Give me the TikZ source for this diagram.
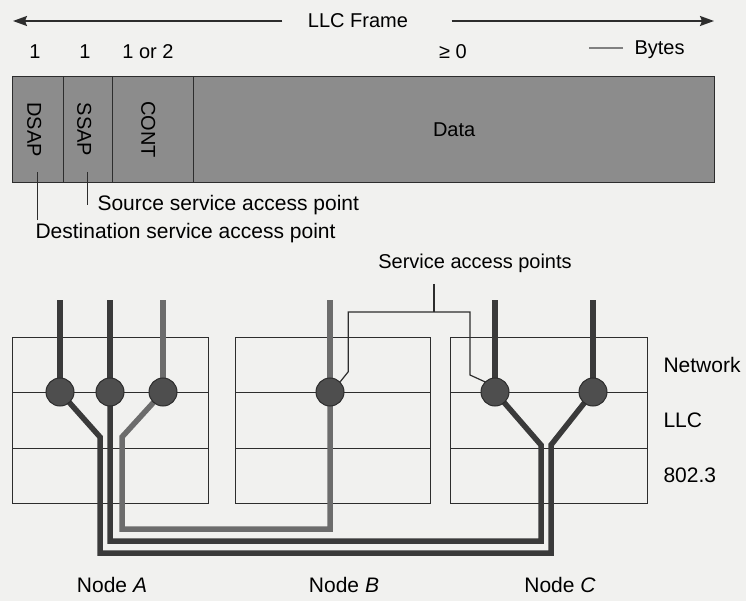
\documentclass[tikz,border=0pt]{standalone}
\usepackage{fontspec}
\setmainfont{Liberation Sans}
\usetikzlibrary{arrows.meta, positioning, calc}

\definecolor{paper}{RGB}{241,241,239}
\definecolor{fieldgray}{RGB}{140,140,140}
\definecolor{inkgray}{RGB}{45,45,45}
\definecolor{wiredark}{RGB}{58,58,58}
\definecolor{wiremid}{RGB}{108,108,108}
\definecolor{sapfill}{RGB}{78,78,78}

\pgfdeclarelayer{under}
\pgfsetlayers{under,main}

\begin{document}
\begin{tikzpicture}[x=1pt, y=-1pt, >={Stealth[length=14pt, width=10pt, inset=2pt]}, line join=miter, font=\fontsize{20}{24}\selectfont]
    % Styles
    \tikzset{
        field/.style={draw=inkgray, line width=1.3pt, fill=fieldgray, minimum height=106pt, inner sep=0pt, anchor=north west},
        stack/.style={draw=inkgray, line width=1.2pt, minimum height=166pt, inner sep=0pt, anchor=north west},
        stackline/.style={line width=1.2pt, inkgray},
        sap/.style={circle, draw=inkgray, line width=1pt, fill=sapfill, minimum size=28pt, inner sep=0pt},
        wire/.style={line width=5.5pt, wiredark},
        wirelight/.style={line width=5.5pt, wiremid},
        thin/.style={line width=1.2pt, inkgray},
        layer/.style={anchor=west, font=\fontsize{21}{25}\selectfont},
        caption/.style={font=\fontsize{21}{25}\selectfont}
    }

    % Page (origin top left, y pointing down)
    \useasboundingbox (0,0) rectangle (746,601);
    \begin{pgfonlayer}{under}
        \fill[paper] (0,0) rectangle (746,601);
    \end{pgfonlayer}

    % --- LLC frame header ---
    \node (frame) at (358,21) {LLC Frame};
    \coordinate (frameL) at (13,21);
    \coordinate (frameR) at (714,21);
    \draw[thin, line width=1.8pt, ->] ($(frame.west)+(-22,0)$) -- (frameL);
    \draw[thin, line width=1.8pt, ->] ($(frame.east)+(40,0)$) -- (frameR);

    \node (len1) at (35,52) {1};
    \node (len2) at (85,52) {1};
    \node (len3) at (148,52) {1 or 2};
    \node (len4) at (453,52) {≥ 0};
    \node[anchor=west] (bytes) at (631,50) {Bytes};
    \draw[line width=2.5pt, gray] ($(bytes.west)+(-8,-2)$) -- ++(-34,0);

    % --- Frame fields ---
    \node[field, minimum width=51pt] (dsap) at (12,76) {};
    \node[field, minimum width=49pt] (ssap) at (63,76) {};
    \node[field, minimum width=81pt] (cont) at (112,76) {};
    \node[field, minimum width=521pt] (data) at (193,76) {Data};
    \node[rotate=-90] (dsaplbl) at ([xshift=-4pt]dsap.center) {DSAP};
    \node[rotate=-90] (ssaplbl) at ([xshift=-4pt]ssap.center) {SSAP};
    \node[rotate=-90] (contlbl) at ([xshift=-5pt]cont.center) {CONT};

    % Leaders to the field names
    \node[caption, anchor=west] (srctxt) at (94,205) {Source service access point};
    \node[caption, anchor=west] (dsttxt) at (32,233) {Destination service access point};
    \draw[thin] (dsaplbl.east) ++(3,12) coordinate (dsapfoot) -- (dsapfoot |- dsttxt.north);
    \draw[thin] (ssaplbl.east) ++(3,12) coordinate (ssapfoot) -- (ssapfoot |- srctxt.center);

    % --- Layer stacks of the three nodes ---
    \begin{pgfonlayer}{under}
        \node[stack, minimum width=196pt] (stackA) at (12,337) {};
        \node[stack, minimum width=195pt] (stackB) at (235,337) {};
        \node[stack, minimum width=197pt] (stackC) at (450,337) {};
        \foreach \s in {stackA, stackB, stackC} {
            \draw[stackline] ($(\s.north west)!1/3!(\s.south west)$) -- ($(\s.north east)!1/3!(\s.south east)$);
            \draw[stackline] ($(\s.north west)!2/3!(\s.south west)$) -- ($(\s.north east)!2/3!(\s.south east)$);
        }
    \end{pgfonlayer}

    \node[layer] (netlbl) at (660,365) {Network};
    \node[layer] (llclbl) at (660,420) {LLC};
    \node[layer] (phylbl) at (660,475) {802.3};

    \node[caption] (nodeA) at (112,585) {Node \textit{A}};
    \node[caption] (nodeB) at (344,585) {Node \textit{B}};
    \node[caption] (nodeC) at (560,585) {Node \textit{C}};

    % --- Service access points ---
    \node[sap] (a1) at (60,392) {};
    \node[sap] (a2) at (110,392) {};
    \node[sap] (a3) at (163,392) {};
    \node[sap] (b1) at (330,392) {};
    \node[sap] (c1) at (495,392) {};
    \node[sap] (c2) at (593,392) {};

    % --- Connections (under the circles) ---
    \begin{pgfonlayer}{under}
        \foreach \s/\w in {a1/wire, a2/wire, a3/wirelight, b1/wirelight, c1/wire, c2/wire}
            \draw[\w] (\s.center) -- ++(0,-92);
        \draw[wire] (a1.center) -- (100,437) -- (100,553) -| (551,445) -- (c2.center);
        \draw[wire] (a2.center) -- (110,541) -| (541,445) -- (c1.center);
        \draw[wirelight] (a3.center) -- (122,437) -- (122,529) -| (b1.center);
    \end{pgfonlayer}

    % Label for the access points
    \node (saplbl) at (475,263) {Service access points};
    \coordinate (sapjoin) at (434,312);
    \draw[thin] ($(saplbl.south -| sapjoin)+(0,8)$) -- (sapjoin);
    \draw[thin] (b1.north east) -- ++(8,-10) |- (470,312) -- (470,375) -- (c1.north west);

\end{tikzpicture}
\end{document}
